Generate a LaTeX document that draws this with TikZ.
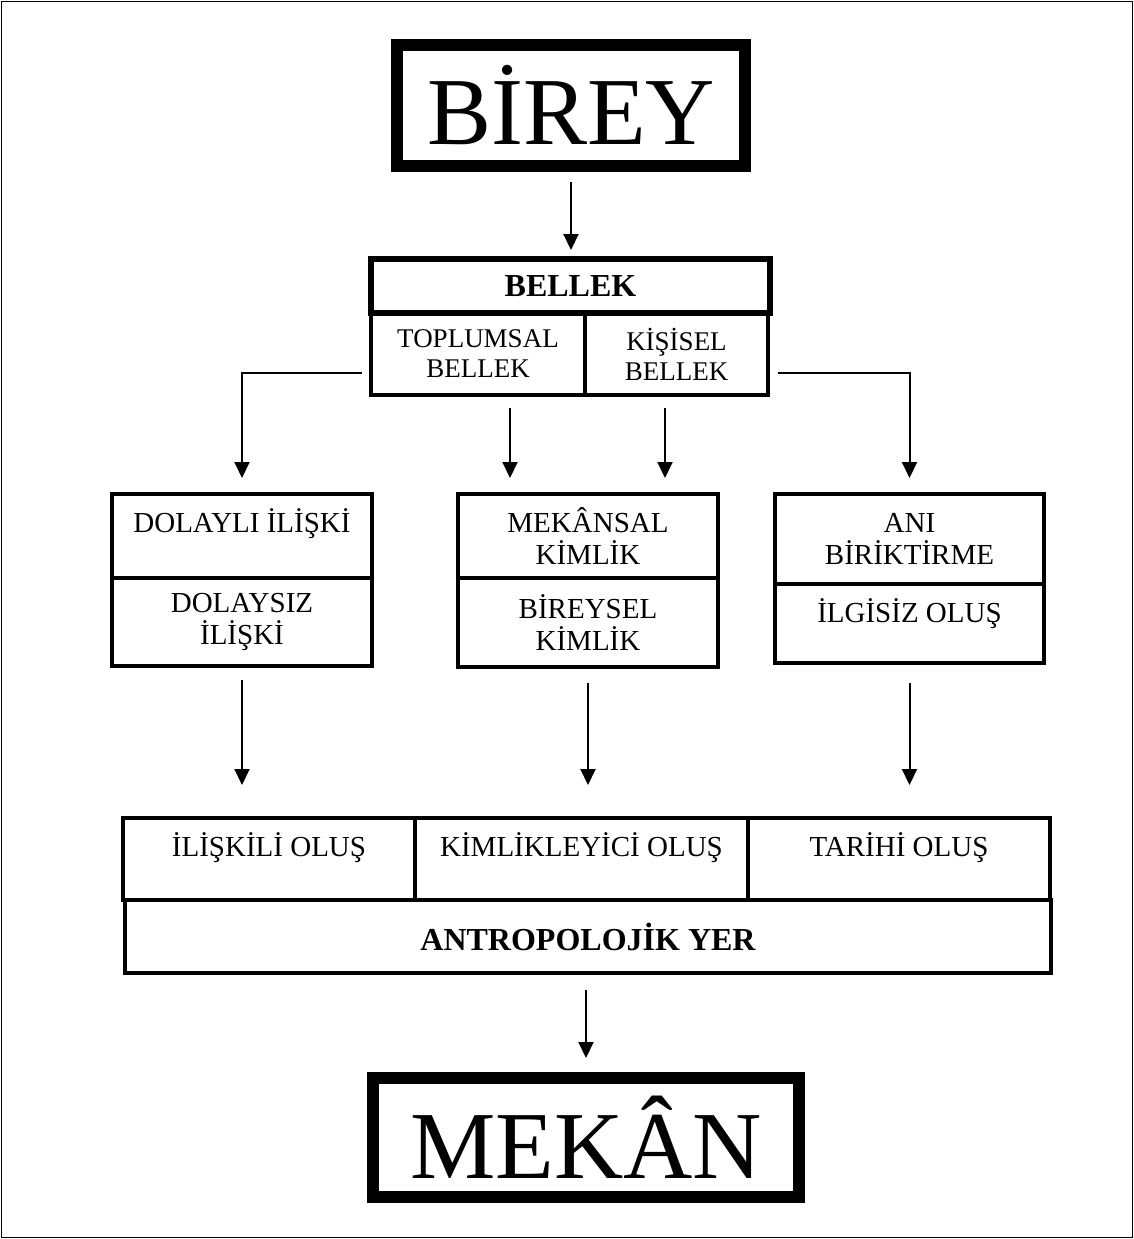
\documentclass[tikz,border=0pt]{standalone}
\usepackage{fontspec}
\setmainfont{Liberation Serif}
\usetikzlibrary{arrows.meta, positioning}

\begin{document}
\begin{tikzpicture}[
    x=0.5pt, y=-0.5pt,
    bigbox/.style={rectangle, draw, line width=6pt, inner sep=0pt, outer sep=0pt, font=\fontsize{48}{50}\selectfont},
    cell/.style={rectangle, draw, line width=2pt, inner sep=0pt, outer sep=0pt, align=center, font=\fontsize{14.5}{16}\selectfont},
    subcell/.style={cell, font=\fontsize{13.5}{15}\selectfont},
    topcell/.style={cell, text height=19pt, text depth=#1},
    headcell/.style={cell, font=\fontsize{16}{18}\selectfont\bfseries},
    arrow/.style={-{Triangle[length=8pt, width=7.5pt]}, line width=1pt}
]
\useasboundingbox (0,0) rectangle (1134,1239);
\draw[line width=0.75pt] (1.5,1.5) rectangle (1132.5,1237.5);

% Individual
\node[bigbox, minimum width=174pt, minimum height=60.5pt] (birey) at (571,105.5) {BİREY};

% Memory
\node[headcell, line width=3pt, minimum width=199.5pt, minimum height=27pt] (bellek) at (570.5,286) {BELLEK};
\node[subcell, minimum width=107pt, minimum height=41pt, anchor=north west] (toplumsal) at (bellek.south west) {TOPLUMSAL\\BELLEK};
\node[subcell, minimum width=91.5pt, minimum height=41pt, right=0pt of toplumsal] (kisisel) {KİŞİSEL\\BELLEK};

% Relations / identities / memories
\node[topcell=23pt, minimum width=130pt] (dolayli) at (242,536) {DOLAYLI İLİŞKİ};
\node[cell, minimum width=130pt, minimum height=44pt, below=0pt of dolayli] (dolaysiz) {DOLAYSIZ\\İLİŞKİ};

\node[cell, minimum width=130pt, minimum height=42pt] (mekansal) at (588,536) {MEKÂNSAL\\KİMLİK};
\node[cell, minimum width=130pt, minimum height=44.5pt, below=0pt of mekansal] (bireysel) {BİREYSEL\\KİMLİK};

\node[cell, minimum width=134.5pt, minimum height=45pt] (ani) at (909.5,539) {ANI\\BİRİKTİRME};
\node[topcell=20.5pt, minimum width=134.5pt, below=0pt of ani] (ilgisiz) {İLGİSİZ OLUŞ};

% Anthropological place
\node[topcell=22pt, minimum width=146pt, anchor=north west] (iliskili) at (123,818) {İLİŞKİLİ OLUŞ};
\node[topcell=22pt, minimum width=166.5pt, right=0pt of iliskili] (kimlikleyici) {KİMLİKLEYİCİ OLUŞ};
\node[topcell=22pt, minimum width=151pt, right=0pt of kimlikleyici] (tarihi) {TARİHİ OLUŞ};
\node[headcell, minimum width=463pt, minimum height=36.5pt] (antropolojik) at (588,936.5) {ANTROPOLOJİK YER};

% Space
\node[bigbox, minimum width=213pt, minimum height=59.5pt] (mekan) at (586,1137.5) {MEKÂN};

% Arrows
\coordinate (ml) at ([xshift=-39pt]mekansal.north);
\coordinate (mr) at ([xshift=38.5pt]mekansal.north);

\draw[arrow, shorten <=8pt, shorten >=4.5pt] (birey.south) -- (birey.south |- bellek.north);
\draw[arrow, shorten >=8pt] ([shift={(-4.5pt,-9.5pt)}]toplumsal.west) -| (dolayli.north);
\draw[arrow, shorten >=8pt] ([shift={(5pt,-9.5pt)}]kisisel.east) -| (ani.north);
\draw[arrow, shorten <=6.5pt, shorten >=8pt] (ml |- toplumsal.south) -- (ml);
\draw[arrow, shorten <=6.5pt, shorten >=8pt] (mr |- kisisel.south) -- (mr);
\draw[arrow, shorten <=7pt, shorten >=16.5pt] (dolaysiz.south) -- (dolaysiz.south |- iliskili.north);
\draw[arrow, shorten <=8pt, shorten >=16.5pt] (bireysel.south) -- (bireysel.south |- kimlikleyici.north);
\draw[arrow, shorten <=10pt, shorten >=16.5pt] (ilgisiz.south) -- (ilgisiz.south |- tarihi.north);
\draw[arrow, shorten <=8.5pt, shorten >=10pt] (mekan.north |- antropolojik.south) -- (mekan.north);

\end{tikzpicture}
\end{document}
